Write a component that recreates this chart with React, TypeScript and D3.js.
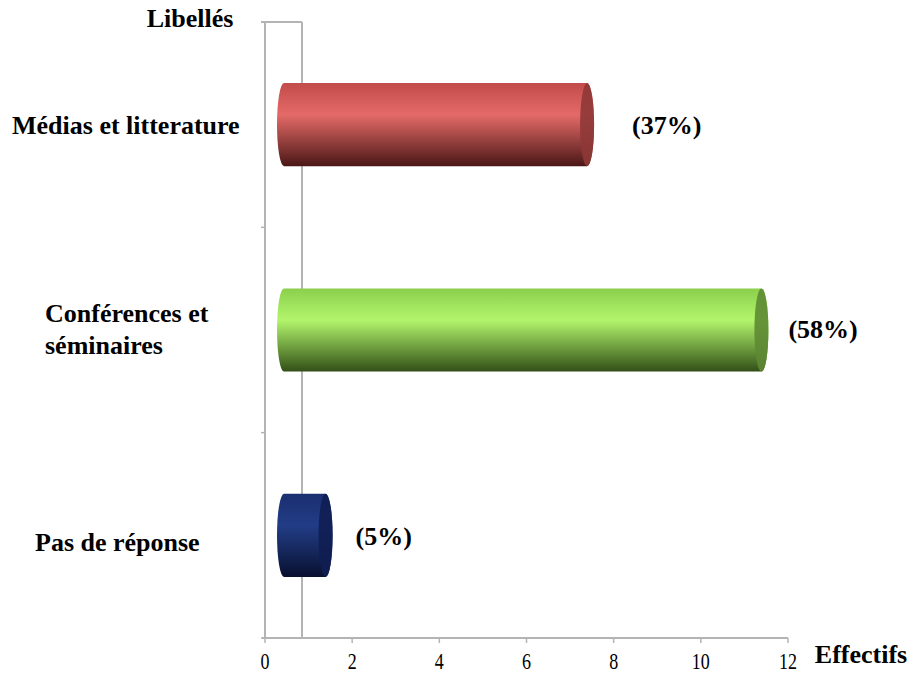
import React from "react";
import * as d3 from "d3";

const categories = ["Médias et litterature", "Conférences et séminaires", "Pas de réponse"];
const categoryLines = [["Médias et litterature"], ["Conférences et", "séminaires"], ["Pas de réponse"]];
const values = [7, 11, 1];
const percentLabels = ["(37%)", "(58%)", "(5%)"];
const xTicks = [0, 2, 4, 6, 8, 10, 12];

const palette = [
  { top: "#c24c4b", mid: "#e46a68", bottom: "#4a1716", cap: "#8e3937" },
  { top: "#8ccf4c", mid: "#b2f56c", bottom: "#324f17", cap: "#5e8a33" },
  { top: "#1b2f70", mid: "#223c86", bottom: "#081030", cap: "#0f1e52" },
];
// label layout per category (left x, baseline offset from band centre)
const labelLayout = [
  { x: 12, dy: 9 },
  { x: 45, dy: 8 },
  { x: 35, dy: 16 },
];
const pctGap = [38, 20, 23];
const pctDy = [9, 8, 10];

const W = 910;
const H = 677;
const FONT = "'Liberation Serif', 'Times New Roman', serif";

export default function App() {
  const x = d3.scaleLinear().domain([0, 12]).range([265, 788]);
  const y = d3.scaleBand<string>().domain(categories).range([22, 638]);
  const step = y.step();
  const barH = step * 0.405;
  const depth = 37;
  const rx = 7;
  const axisY = 638;
  const gray = "#b4b4b4";

  const txt = (s: string, tx: number, ty: number, size: number, weight: string, anchor: string, key?: string, sy = 1) => (
    <text
      key={key}
      transform={`translate(${tx},${ty}) scale(1,${sy})`}
      fontFamily={FONT}
      fontSize={size}
      fontWeight={weight}
      textAnchor={anchor as any}
      fill="#000"
    >
      {s}
    </text>
  );

  return (
    <svg width={W} height={H} style={{ position: "absolute", left: 0, top: 0, background: "#fff" }}>
      <defs>
        {palette.map((p, i) => (
          <linearGradient key={i} id={`g${i}`} x1="0" y1="0" x2="0" y2="1">
            <stop offset="0" stopColor={p.top} />
            <stop offset="0.38" stopColor={p.mid} />
            <stop offset="0.6" stopColor={d3.interpolateRgb(p.mid, p.bottom)(0.35)} />
            <stop offset="1" stopColor={p.bottom} />
          </linearGradient>
        ))}
      </defs>

      {/* 3D wall */}
      <line x1={x(0)} x2={x(0)} y1={22} y2={axisY} stroke={gray} strokeWidth={2} />
      <line x1={x(0) + depth} x2={x(0) + depth} y1={22} y2={axisY} stroke={gray} strokeWidth={2} />
      <line x1={x(0) - 4} x2={x(0) + depth} y1={22} y2={22} stroke={gray} strokeWidth={2} />
      {categories.map((c) => (
        <line key={c} x1={x(0) - 4} x2={x(0)} y1={(y(c) as number) + step} y2={(y(c) as number) + step} stroke={gray} strokeWidth={1.5} />
      ))}
      {/* x axis */}
      <line x1={x(0) - 3} x2={x(12)} y1={axisY} y2={axisY} stroke={gray} strokeWidth={2} />
      {xTicks.map((t) => (
        <g key={t}>
          <line x1={x(t)} x2={x(t)} y1={axisY} y2={axisY + 5} stroke={gray} strokeWidth={1.5} />
          {txt(String(t), x(t), axisY + 31, 18, "normal", "middle", undefined, 1.25)}
        </g>
      ))}

      {/* bars */}
      {categories.map((c, i) => {
        const cy = (y(c) as number) + step / 2;
        const top = cy - barH / 2;
        const bot = cy + barH / 2;
        const ry = barH / 2;
        const left = x(0) + 12;
        const right = x(values[i]) + 24;
        const path = `M${left + rx},${top} L${right - rx},${top} A${rx},${ry} 0 0 1 ${right - rx},${bot} L${left + rx},${bot} A${rx},${ry} 0 0 1 ${left + rx},${top} Z`;
        return (
          <g key={c}>
            <path d={path} fill={`url(#g${i})`} />
            <ellipse cx={right - rx} cy={cy} rx={rx} ry={ry} fill={palette[i].cap} opacity={0.9} />
            {txt(percentLabels[i], right + pctGap[i], cy + pctDy[i], 26, "bold", "start")}
            {categoryLines[i].map((ln, j) =>
              txt(
                ln,
                labelLayout[i].x,
                cy + labelLayout[i].dy + (j - (categoryLines[i].length - 1) / 2) * 32,
                26,
                "bold",
                "start",
                ln
              )
            )}
          </g>
        );
      })}

      {txt("Libellés", 190, 27, 26, "bold", "middle")}
      {txt("Effectifs", 861, 663, 26, "bold", "middle")}
    </svg>
  );
}
